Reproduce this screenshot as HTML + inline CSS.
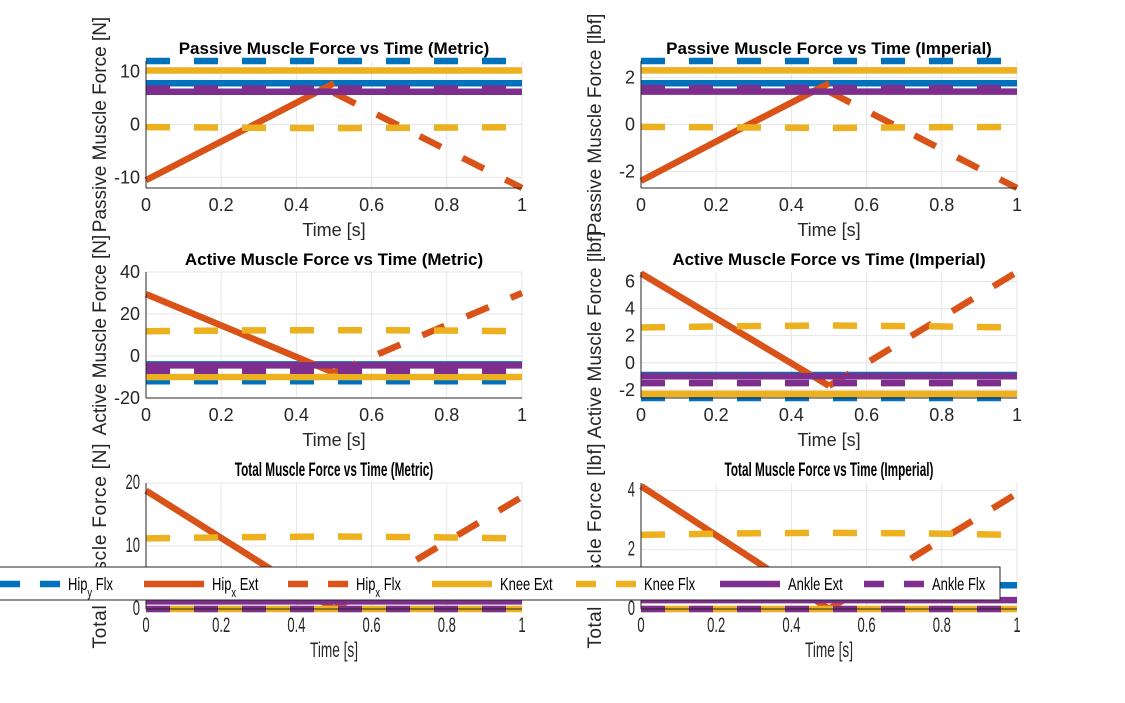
<!DOCTYPE html>
<html><head><meta charset="utf-8"><style>
html,body{margin:0;padding:0;background:#fff;}
svg{display:block;font-family:"Liberation Sans",sans-serif;}
</style></head><body>
<svg id="fig" width="1125" height="703" viewBox="0 0 1125 703"></svg>
<script>
const times = [0, 0.25, 0.5, 0.75, 1];
const seriesNames = ['Hip_y Ext','Hip_y Flx','Hip_x Ext','Hip_x Flx','Knee Ext','Knee Flx','Ankle Ext','Ankle Flx'];
const passiveMetric = [
 [7.8,7.8,7.8,7.8,7.8],[12,12,12,12,12],[-10.5,-1.4,7.8,null,null],[null,null,6,-3,-12],
 [10.2,10.2,10.2,10.2,10.2],[-0.5,-0.6,-0.7,-0.6,-0.5],[6.2,6.2,6.2,6.2,6.2],[6.8,6.8,6.8,6.8,6.8]];
const passiveImperial = [
 [1.75,1.75,1.75,1.75,1.75],[2.7,2.7,2.7,2.7,2.7],[-2.4,-0.3,1.75,null,null],[null,null,1.4,-0.65,-2.7],
 [2.3,2.3,2.3,2.3,2.3],[-0.1,-0.12,-0.15,-0.12,-0.1],[1.4,1.4,1.4,1.4,1.4],[1.55,1.55,1.55,1.55,1.55]];
const activeMetric = [
 [-4,-4,-4,-4,-4],[-12,-12,-12,-12,-12],[29.5,10.8,-8,null,null],[null,null,-8,11,30],
 [-10,-10,-10,-10,-10],[11.8,12.2,12.3,12.2,11.8],[-4.5,-4.5,-4.5,-4.5,-4.5],[-7,-7,-7,-7,-7]];
const activeImperial = [
 [-0.9,-0.9,-0.9,-0.9,-0.9],[-2.6,-2.6,-2.6,-2.6,-2.6],[6.6,2.45,-1.7,null,null],[null,null,-1.7,2.5,6.7],
 [-2.3,-2.3,-2.3,-2.3,-2.3],[2.6,2.7,2.75,2.7,2.6],[-1.0,-1.0,-1.0,-1.0,-1.0],[-1.5,-1.5,-1.5,-1.5,-1.5]];
const totalMetric = [
 [3.6,3.6,3.6,3.6,3.6],[3.6,3.6,3.6,3.6,3.6],[18.8,9.4,0,null,null],[null,null,0,8.9,17.8],
 [0,0,0,0,0],[11.2,11.4,11.5,11.4,11.2],[1.2,1.2,1.2,1.2,1.2],[0,0,0,0,0]];
const totalImperial = [
 [0.8,0.8,0.8,0.8,0.8],[0.8,0.8,0.8,0.8,0.8],[4.15,2.07,0,null,null],[null,null,0,1.95,3.9],
 [0,0,0,0,0],[2.5,2.55,2.57,2.55,2.5],[0.3,0.3,0.3,0.3,0.3],[0,0,0,0,0]];
const xTicks = [0,0.2,0.4,0.6,0.8,1];
const xTickLabels = ['0','0.2','0.4','0.6','0.8','1'];

const colors = ['#0072BD','#0072BD','#D95319','#D95319','#EDB120','#EDB120','#7E2F8E','#7E2F8E'];
const dashed = [false,true,false,true,false,true,false,true];
const NS='http://www.w3.org/2000/svg';
const svg=document.getElementById('fig');
function mk(tag,attrs,parent){const e=document.createElementNS(NS,tag);for(const k in attrs)e.setAttribute(k,attrs[k]);(parent||svg).appendChild(e);return e;}
function squeeze(el,cx,s){el.setAttribute('transform','translate('+cx+',0) scale('+s+',1) translate('+(-cx)+',0)');}

const panels=[
 {x:146,y:61,w:376,h:127,ymin:-12,ymax:12,yt:[-10,0,10],title:'Passive Muscle Force vs Time (Metric)',yl:'Passive Muscle Force [N]',d:passiveMetric,c:false,name:'passive-metric'},
 {x:641,y:61,w:376,h:127,ymin:-2.7,ymax:2.7,yt:[-2,0,2],title:'Passive Muscle Force vs Time (Imperial)',yl:'Passive Muscle Force [lbf]',d:passiveImperial,c:false,name:'passive-imperial'},
 {x:146,y:272,w:376,h:126,ymin:-20,ymax:40,yt:[-20,0,20,40],title:'Active Muscle Force vs Time (Metric)',yl:'Active Muscle Force [N]',d:activeMetric,c:false,name:'active-metric'},
 {x:641,y:272,w:376,h:126,ymin:-2.6,ymax:6.7,yt:[-2,0,2,4,6],title:'Active Muscle Force vs Time (Imperial)',yl:'Active Muscle Force [lbf]',d:activeImperial,c:false,name:'active-imperial'},
 {x:146,y:483,w:376,h:126,ymin:0,ymax:20,yt:[0,10,20],title:'Total Muscle Force vs Time (Metric)',yl:'Total Muscle Force [N]',d:totalMetric,c:true,name:'total-metric'},
 {x:641,y:483,w:376,h:126,ymin:0,ymax:4.25,yt:[0,2,4],title:'Total Muscle Force vs Time (Imperial)',yl:'Total Muscle Force [lbf]',d:totalImperial,c:true,name:'total-imperial'}
];

panels.forEach((p,pi)=>{
 const g=mk('g',{});
 
 
 const sx=v=>p.x+v*p.w;
 const sy=v=>p.y+p.h-(v-p.ymin)/(p.ymax-p.ymin)*p.h;
 const fs=p.c?21:18, sq=p.c?0.62:1;
 mk('rect',{x:p.x,y:p.y,width:p.w,height:p.h,fill:'#fff'},g);
 xTicks.forEach(t=>mk('line',{x1:sx(t),x2:sx(t),y1:p.y,y2:p.y+p.h,stroke:'#e6e6e6','stroke-width':1},g));
 p.yt.forEach(t=>mk('line',{x1:p.x,x2:p.x+p.w,y1:sy(t),y2:sy(t),stroke:'#e6e6e6','stroke-width':1},g));
 const clipId='clip'+pi;
 const cp=mk('clipPath',{id:clipId},g);
 mk('rect',{x:p.x-2,y:p.y-4,width:p.w+4,height:p.h+8},cp);
 const lg=mk('g',{'clip-path':'url(#'+clipId+')'},g);
 p.d.forEach((vals,si)=>{
  const pts=[];
  vals.forEach((v,i)=>{if(v!==null)pts.push(sx(times[i]).toFixed(1)+','+sy(v).toFixed(1));});
  const pl=mk('polyline',{points:pts.join(' '),fill:'none',stroke:colors[si],'stroke-width':6.5,'stroke-dasharray':dashed[si]?'24 24':'none'},lg);
  
  
 });
 mk('line',{x1:p.x,x2:p.x,y1:p.y,y2:p.y+p.h,stroke:'#262626','stroke-width':1},g);
 mk('line',{x1:p.x,x2:p.x+p.w,y1:p.y+p.h,y2:p.y+p.h,stroke:'#262626','stroke-width':1},g);
 xTicks.forEach((t,i)=>{
  const tx=mk('text',{x:sx(t),y:p.y+p.h+23,'text-anchor':'middle','font-size':fs,fill:'#262626'},g);
  if(p.c)squeeze(tx,sx(t),sq);
  tx.textContent=xTickLabels[i];
  
  
 });
 p.yt.forEach(t=>{
  const tx=mk('text',{x:p.x-6,y:sy(t)+6,'text-anchor':'end','font-size':fs,fill:'#262626'},g);
  if(p.c)squeeze(tx,p.x-6,sq);
  tx.textContent=String(t);
  
  
 });
 const xl=mk('text',{x:p.x+p.w/2,y:p.y+p.h+48,'text-anchor':'middle','font-size':fs,fill:'#262626'},g);
 if(p.c)squeeze(xl,p.x+p.w/2,0.65);
 xl.textContent='Time [s]';
 
 
 const ti=mk('text',{x:p.x+p.w/2,y:p.y-7,'text-anchor':'middle','font-size':p.c?19:17,'font-weight':'bold',fill:'#000'},g);
 if(p.c)squeeze(ti,p.x+p.w/2,0.62);
 ti.textContent=p.title;
 
 
 const cy=p.y+p.h/2, cx=p.x-40;
 const yl=mk('text',{x:cx,y:cy,'text-anchor':'middle','font-size':19,fill:'#262626',transform:'rotate(-90 '+cx+' '+cy+')'},g);
 if(p.c){yl.setAttribute('textLength',205);yl.setAttribute('lengthAdjust','spacing');}
 yl.textContent=p.yl;
 
 
});

const leg=mk('g',{});


mk('rect',{x:-5,y:567,width:1005,height:33,fill:'#fff',stroke:'#262626','stroke-width':1},leg);
seriesNames.forEach((n,i)=>{
 const x0=-144+144*i;
 const e=mk('g',{},leg);
 
 
 mk('line',{x1:x0,x2:x0+60,y1:584,y2:584,stroke:colors[i],'stroke-width':6.5,'stroke-dasharray':dashed[i]?'20 20':'none'},e);
 const tx=mk('text',{x:x0+68,y:590,'font-size':18,fill:'#000'},e);
 squeeze(tx,x0+68,0.72);
 const parts=n.split('_');
 if(parts.length>1){
  tx.appendChild(document.createTextNode(parts[0]));
  const sub=document.createElementNS(NS,'tspan');sub.setAttribute('baseline-shift','sub');sub.setAttribute('font-size','13');
  const r=parts[1].split(' ');sub.textContent=r[0];tx.appendChild(sub);
  const rest=document.createElementNS(NS,'tspan');rest.textContent=' '+r.slice(1).join(' ');tx.appendChild(rest);
 } else tx.textContent=n;
});
</script>
</body></html>
